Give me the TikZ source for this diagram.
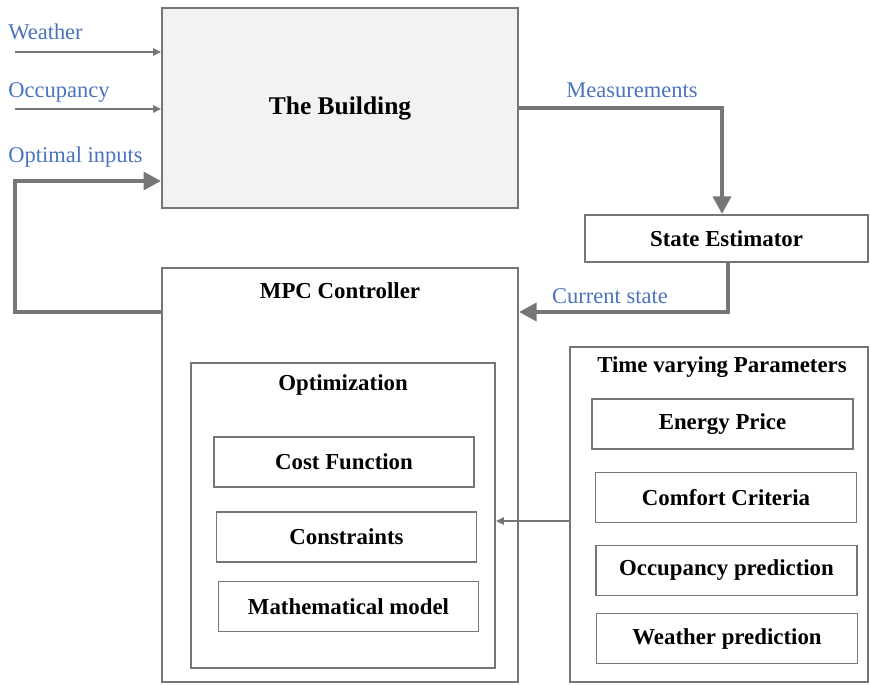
\documentclass[tikz,border=0pt]{standalone}
\usepackage{fontspec}
\setmainfont{Liberation Serif}
\usepackage{xcolor}
\usetikzlibrary{positioning, arrows.meta}
\definecolor{framegray}{RGB}{118,118,118}
\definecolor{labelblue}{RGB}{74,115,190}
\definecolor{buildgray}{RGB}{242,242,242}

\begin{document}
\begin{tikzpicture}[x=0.02cm, y=-0.02cm,
      every node/.style={font=\bfseries\fontsize{13}{15}\selectfont},
      box/.style={draw=framegray, line width=1.1pt, align=center, inner sep=0pt},
      item/.style={box, minimum width=5.2cm, minimum height=1cm},
      lbl/.style={font=\fontsize{12.8}{15}\selectfont, text=labelblue, inner sep=0pt},
      thinarr/.style={-{Triangle[length=4.5pt, width=4pt]}, draw=framegray, line width=1.1pt},
      thickarr/.style={-{Triangle[length=10pt, width=10pt]}, draw=framegray, line width=2.8pt}]
    \useasboundingbox (0,0) rectangle (870,684);
    % the building and the estimator
    \node[box, fill=buildgray, minimum width=7.12cm, minimum height=4cm,
          font=\bfseries\fontsize{14.5}{17}\selectfont] (building) at (340,108) {The Building};
    \node[box, minimum width=5.66cm, minimum height=0.94cm] (estim) at (726.5,238.5) {State Estimator};
    % controller
    \node[box, minimum width=7.12cm, minimum height=8.28cm] (mpc) at (340,475) {};
    \node (mpctitle) at (340,291) {MPC Controller};
    \node[box, minimum width=6.08cm, minimum height=6.1cm] (optim) at (343,515.5) {};
    \node (optimtitle) at (343,385) {Optimization};
    \node[item] (cost) at (344,462) {Cost Function};
    \node[item] (constr) at (346.5,537) {Constraints};
    \node[item] (model) at (348.5,606.5) {Mathematical model};
    % time varying parameters
    \node[box, minimum width=5.96cm, minimum height=6.7cm] (tvp) at (719,514.5) {};
    \node (tvptitle) at (722,367) {Time varying Parameters};
    \node[item, minimum width=5.22cm] (price) at (722.5,424) {Energy Price};
    \node[item, minimum width=5.22cm] (comfort) at (726,497.5) {Comfort Criteria};
    \node[item, minimum width=5.22cm] (occpred) at (726.5,570.5) {Occupancy prediction};
    \node[item, minimum width=5.22cm] (wthpred) at (727,638.5) {Weather prediction};
    % labels
    \node[lbl, anchor=west] (weather) at (8,32) {Weather};
    \node[lbl, anchor=west] (occup) at (8,92) {Occupancy};
    \node[lbl, anchor=west] (optin) at (8,157) {Optimal inputs};
    \node[lbl] (meas) at (632,90) {Measurements};
    \node[lbl] (curst) at (610,296) {Current state};
    % connectors
    \coordinate (weatherin) at (15,52);
    \coordinate (occupin) at (15,109);
    \coordinate (loopbot) at (15,312);
    \coordinate (looptop) at (15,181);
    \coordinate (stateturn) at (728,312);
    \coordinate (tvpout) at (570,521);
    \draw[thinarr] (weatherin) -- (weatherin -| building.west);
    \draw[thinarr] (occupin) -- (occupin -| building.west);
    \draw[thickarr] (loopbot -| mpc.west) -- (loopbot) -- (looptop) -- (looptop -| building.west);
    \draw[thickarr] (building.east) -| (estim.north -| 722,0);
    \draw[thickarr] (estim.south -| stateturn) -- (stateturn) -- (stateturn -| mpc.east);
    \draw[thinarr] (tvpout) -- (tvpout -| optim.east);
  \end{tikzpicture}
\end{document}
